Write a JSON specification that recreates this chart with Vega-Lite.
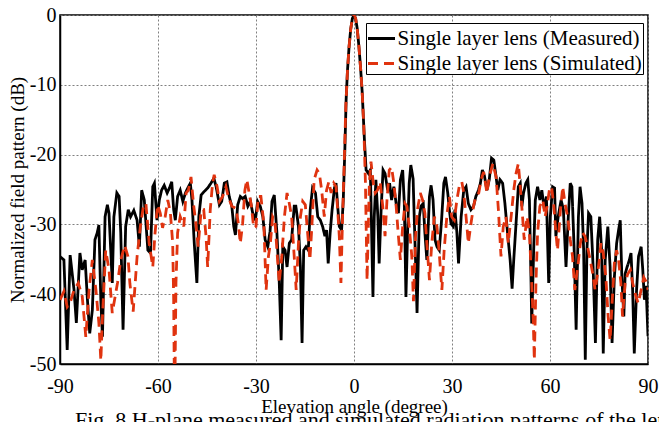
{
"$schema":"https://vega.github.io/schema/vega-lite/v6.json",
"width":588,"height":349,
"autosize":{"type":"none"},
"padding":{"left":60,"top":15,"right":11,"bottom":58},
"title":{"text":"Fig. 8 H-plane measured and simulated radiation patterns of the lens antenna","orient":"bottom","anchor":"start","frame":"group","font":"Liberation Serif","fontSize":22,"fontWeight":"normal","color":"black","offset":-6,"dx":15},
"config":{"view":{"stroke":"black","strokeWidth":1.5},"font":"Liberation Serif",
"style":{"guide-label":{"font":"Liberation Serif","fontSize":20,"fill":"black"},"guide-title":{"font":"Liberation Serif","fontSize":19,"fontWeight":"normal","fill":"black"}},
"axis":{"ticks":false,"tickSize":0,"domainColor":"black","domainWidth":1.5,"gridColor":"#808080","gridDash":[2,2],"gridWidth":1,"gridOpacity":1}},
"data":{"values":[
{"a":-90,"v":-34.6,"s":"Measured"},{"a":-88.8,"v":-35.1,"s":"Measured"},{"a":-87.8,"v":-48,"s":"Measured"},{"a":-86.9,"v":-34.4,"s":"Measured"},{"a":-85.7,"v":-39.4,"s":"Measured"},{"a":-85,"v":-44.1,"s":"Measured"},{"a":-83.9,"v":-34.1,"s":"Measured"},{"a":-83.2,"v":-36.5,"s":"Measured"},{"a":-82.3,"v":-35.1,"s":"Measured"},{"a":-81.6,"v":-40.8,"s":"Measured"},{"a":-80.9,"v":-45.6,"s":"Measured"},{"a":-80.1,"v":-42.3,"s":"Measured"},{"a":-79.3,"v":-32.2,"s":"Measured"},{"a":-78.6,"v":-31.2,"s":"Measured"},{"a":-78.1,"v":-30.1,"s":"Measured"},{"a":-77.5,"v":-40.8,"s":"Measured"},{"a":-77,"v":-46.1,"s":"Measured"},{"a":-76.2,"v":-28.9,"s":"Measured"},{"a":-75.5,"v":-27.2,"s":"Measured"},{"a":-75,"v":-28.4,"s":"Measured"},{"a":-74,"v":-38.4,"s":"Measured"},{"a":-73.5,"v":-28.9,"s":"Measured"},{"a":-72.6,"v":-25.5,"s":"Measured"},{"a":-71.9,"v":-26,"s":"Measured"},{"a":-71.4,"v":-31.2,"s":"Measured"},{"a":-70.7,"v":-45.1,"s":"Measured"},{"a":-69.9,"v":-30.3,"s":"Measured"},{"a":-69.1,"v":-27.9,"s":"Measured"},{"a":-68.4,"v":-28.9,"s":"Measured"},{"a":-67.4,"v":-28,"s":"Measured"},{"a":-66.4,"v":-29.4,"s":"Measured"},{"a":-65.7,"v":-33.2,"s":"Measured"},{"a":-65,"v":-25.1,"s":"Measured"},{"a":-64.2,"v":-26.5,"s":"Measured"},{"a":-63.1,"v":-33.7,"s":"Measured"},{"a":-62.3,"v":-34.1,"s":"Measured"},{"a":-61.6,"v":-24.6,"s":"Measured"},{"a":-61.1,"v":-24.1,"s":"Measured"},{"a":-60.3,"v":-29.4,"s":"Measured"},{"a":-59.6,"v":-26.5,"s":"Measured"},{"a":-58.9,"v":-25.1,"s":"Measured"},{"a":-58.1,"v":-24.4,"s":"Measured"},{"a":-57.2,"v":-25.5,"s":"Measured"},{"a":-56.5,"v":-24.8,"s":"Measured"},{"a":-55.8,"v":-23.9,"s":"Measured"},{"a":-55.2,"v":-27.9,"s":"Measured"},{"a":-54.7,"v":-29.4,"s":"Measured"},{"a":-54,"v":-26,"s":"Measured"},{"a":-53.2,"v":-25.1,"s":"Measured"},{"a":-52.4,"v":-26.7,"s":"Measured"},{"a":-51.6,"v":-25.5,"s":"Measured"},{"a":-50.9,"v":-24.8,"s":"Measured"},{"a":-50.1,"v":-24.1,"s":"Measured"},{"a":-49.6,"v":-26.5,"s":"Measured"},{"a":-48.9,"v":-32.7,"s":"Measured"},{"a":-48.1,"v":-38.4,"s":"Measured"},{"a":-47.5,"v":-28.9,"s":"Measured"},{"a":-46.8,"v":-25.8,"s":"Measured"},{"a":-45.9,"v":-25.3,"s":"Measured"},{"a":-44.8,"v":-24.8,"s":"Measured"},{"a":-43.8,"v":-24.1,"s":"Measured"},{"a":-42.9,"v":-23.4,"s":"Measured"},{"a":-42.2,"v":-24.6,"s":"Measured"},{"a":-41.2,"v":-27.2,"s":"Measured"},{"a":-40.5,"v":-26.7,"s":"Measured"},{"a":-39.7,"v":-24.1,"s":"Measured"},{"a":-38.9,"v":-23.9,"s":"Measured"},{"a":-38.2,"v":-26,"s":"Measured"},{"a":-37.4,"v":-27.4,"s":"Measured"},{"a":-36.8,"v":-30.3,"s":"Measured"},{"a":-36.3,"v":-31.5,"s":"Measured"},{"a":-35.6,"v":-27.2,"s":"Measured"},{"a":-34.8,"v":-26,"s":"Measured"},{"a":-34.1,"v":-26.3,"s":"Measured"},{"a":-33.3,"v":-26,"s":"Measured"},{"a":-32.5,"v":-27.4,"s":"Measured"},{"a":-31.7,"v":-26.7,"s":"Measured"},{"a":-31,"v":-28.4,"s":"Measured"},{"a":-30.2,"v":-29.4,"s":"Measured"},{"a":-29.5,"v":-26.7,"s":"Measured"},{"a":-28.7,"v":-27.4,"s":"Measured"},{"a":-27.9,"v":-28.9,"s":"Measured"},{"a":-27.2,"v":-32.2,"s":"Measured"},{"a":-26.4,"v":-33.2,"s":"Measured"},{"a":-25.7,"v":-31,"s":"Measured"},{"a":-25.1,"v":-26.7,"s":"Measured"},{"a":-24.4,"v":-25.8,"s":"Measured"},{"a":-23.6,"v":-31.2,"s":"Measured"},{"a":-22.9,"v":-38,"s":"Measured"},{"a":-22.3,"v":-46.6,"s":"Measured"},{"a":-21.8,"v":-33.2,"s":"Measured"},{"a":-21.1,"v":-33.7,"s":"Measured"},{"a":-20.5,"v":-36.1,"s":"Measured"},{"a":-19.8,"v":-32.7,"s":"Measured"},{"a":-19.1,"v":-32.2,"s":"Measured"},{"a":-18.3,"v":-27.4,"s":"Measured"},{"a":-17.8,"v":-27.4,"s":"Measured"},{"a":-17,"v":-30.3,"s":"Measured"},{"a":-16.4,"v":-36.1,"s":"Measured"},{"a":-15.9,"v":-47,"s":"Measured"},{"a":-15.4,"v":-33.7,"s":"Measured"},{"a":-14.7,"v":-33.2,"s":"Measured"},{"a":-14,"v":-33.7,"s":"Measured"},{"a":-13.4,"v":-27.9,"s":"Measured"},{"a":-12.7,"v":-24.8,"s":"Measured"},{"a":-11.8,"v":-25.5,"s":"Measured"},{"a":-11.1,"v":-28.9,"s":"Measured"},{"a":-10.3,"v":-29.4,"s":"Measured"},{"a":-9.6,"v":-30.3,"s":"Measured"},{"a":-8.9,"v":-31.7,"s":"Measured"},{"a":-8.4,"v":-30.8,"s":"Measured"},{"a":-7.9,"v":-35.6,"s":"Measured"},{"a":-7.3,"v":-31.2,"s":"Measured"},{"a":-6.7,"v":-27.9,"s":"Measured"},{"a":-6,"v":-24.8,"s":"Measured"},{"a":-5.5,"v":-24.1,"s":"Measured"},{"a":-5,"v":-27.4,"s":"Measured"},{"a":-4.5,"v":-30.3,"s":"Measured"},{"a":-3.8,"v":-30.8,"s":"Measured"},{"a":-3.3,"v":-26.7,"s":"Measured"},{"a":-2.8,"v":-19.3,"s":"Measured"},{"a":-2.4,"v":-12,"s":"Measured"},{"a":-2,"v":-8,"s":"Measured"},{"a":-1.5,"v":-4.5,"s":"Measured"},{"a":-1,"v":-2,"s":"Measured"},{"a":-0.5,"v":-0.5,"s":"Measured"},{"a":0,"v":0,"s":"Measured"},{"a":0.5,"v":-0.5,"s":"Measured"},{"a":1,"v":-2,"s":"Measured"},{"a":1.5,"v":-4.5,"s":"Measured"},{"a":2,"v":-7.5,"s":"Measured"},{"a":2.5,"v":-11,"s":"Measured"},{"a":3.2,"v":-18,"s":"Measured"},{"a":3.7,"v":-22.2,"s":"Measured"},{"a":4.4,"v":-22.7,"s":"Measured"},{"a":5,"v":-22.2,"s":"Measured"},{"a":5.4,"v":-31.2,"s":"Measured"},{"a":5.8,"v":-40.4,"s":"Measured"},{"a":6.2,"v":-28.9,"s":"Measured"},{"a":6.7,"v":-23.6,"s":"Measured"},{"a":7.3,"v":-28.9,"s":"Measured"},{"a":7.7,"v":-35.6,"s":"Measured"},{"a":8.3,"v":-27.9,"s":"Measured"},{"a":8.9,"v":-22.2,"s":"Measured"},{"a":9.5,"v":-22.7,"s":"Measured"},{"a":10.3,"v":-25.1,"s":"Measured"},{"a":10.9,"v":-24.1,"s":"Measured"},{"a":11.5,"v":-26.5,"s":"Measured"},{"a":12.2,"v":-24.6,"s":"Measured"},{"a":12.9,"v":-27,"s":"Measured"},{"a":13.6,"v":-28.4,"s":"Measured"},{"a":14.2,"v":-23.6,"s":"Measured"},{"a":14.9,"v":-22.2,"s":"Measured"},{"a":15.4,"v":-27,"s":"Measured"},{"a":15.9,"v":-40.4,"s":"Measured"},{"a":16.4,"v":-31.2,"s":"Measured"},{"a":16.9,"v":-24.1,"s":"Measured"},{"a":17.4,"v":-21.5,"s":"Measured"},{"a":18.1,"v":-23.5,"s":"Measured"},{"a":18.5,"v":-30,"s":"Measured"},{"a":18.9,"v":-36,"s":"Measured"},{"a":19.3,"v":-42.7,"s":"Measured"},{"a":20,"v":-28.9,"s":"Measured"},{"a":20.5,"v":-27.4,"s":"Measured"},{"a":21.2,"v":-27,"s":"Measured"},{"a":21.7,"v":-31.2,"s":"Measured"},{"a":22.3,"v":-35.1,"s":"Measured"},{"a":23.1,"v":-26,"s":"Measured"},{"a":23.6,"v":-24.4,"s":"Measured"},{"a":24.2,"v":-26.5,"s":"Measured"},{"a":24.8,"v":-32.2,"s":"Measured"},{"a":25.4,"v":-33.2,"s":"Measured"},{"a":26.1,"v":-33.7,"s":"Measured"},{"a":26.8,"v":-29.4,"s":"Measured"},{"a":27.5,"v":-24.1,"s":"Measured"},{"a":28,"v":-23.2,"s":"Measured"},{"a":28.7,"v":-25.5,"s":"Measured"},{"a":29.2,"v":-27.9,"s":"Measured"},{"a":29.7,"v":-29.9,"s":"Measured"},{"a":30.4,"v":-30.3,"s":"Measured"},{"a":30.9,"v":-27.9,"s":"Measured"},{"a":31.5,"v":-31.2,"s":"Measured"},{"a":32,"v":-35.6,"s":"Measured"},{"a":32.8,"v":-28.9,"s":"Measured"},{"a":33.6,"v":-25.1,"s":"Measured"},{"a":34.3,"v":-24.6,"s":"Measured"},{"a":35,"v":-27,"s":"Measured"},{"a":35.8,"v":-27.9,"s":"Measured"},{"a":36.6,"v":-27.4,"s":"Measured"},{"a":37.3,"v":-26,"s":"Measured"},{"a":38.1,"v":-25.1,"s":"Measured"},{"a":38.7,"v":-24.1,"s":"Measured"},{"a":39.3,"v":-22.2,"s":"Measured"},{"a":39.9,"v":-23,"s":"Measured"},{"a":40.7,"v":-25.1,"s":"Measured"},{"a":41.4,"v":-23.6,"s":"Measured"},{"a":42.1,"v":-20.5,"s":"Measured"},{"a":42.8,"v":-20.8,"s":"Measured"},{"a":43.5,"v":-23.2,"s":"Measured"},{"a":44,"v":-25.1,"s":"Measured"},{"a":44.7,"v":-23.6,"s":"Measured"},{"a":45.5,"v":-24.1,"s":"Measured"},{"a":46.2,"v":-27,"s":"Measured"},{"a":47,"v":-31.2,"s":"Measured"},{"a":47.8,"v":-35.1,"s":"Measured"},{"a":48.4,"v":-39.2,"s":"Measured"},{"a":48.9,"v":-35.1,"s":"Measured"},{"a":49.6,"v":-29.9,"s":"Measured"},{"a":50.3,"v":-24.6,"s":"Measured"},{"a":50.9,"v":-24.1,"s":"Measured"},{"a":51.4,"v":-27.4,"s":"Measured"},{"a":51.9,"v":-25.5,"s":"Measured"},{"a":52.6,"v":-24.1,"s":"Measured"},{"a":53.2,"v":-23.6,"s":"Measured"},{"a":53.7,"v":-26.5,"s":"Measured"},{"a":54.2,"v":-38.4,"s":"Measured"},{"a":54.4,"v":-44.2,"s":"Measured"},{"a":55,"v":-33.7,"s":"Measured"},{"a":55.5,"v":-26.5,"s":"Measured"},{"a":56.2,"v":-24.6,"s":"Measured"},{"a":56.9,"v":-26.5,"s":"Measured"},{"a":57.5,"v":-25.1,"s":"Measured"},{"a":58.3,"v":-27.9,"s":"Measured"},{"a":58.9,"v":-26,"s":"Measured"},{"a":59.6,"v":-38.4,"s":"Measured"},{"a":60.1,"v":-28.9,"s":"Measured"},{"a":60.8,"v":-24.6,"s":"Measured"},{"a":61.4,"v":-24.8,"s":"Measured"},{"a":61.8,"v":-31.7,"s":"Measured"},{"a":62.5,"v":-28.9,"s":"Measured"},{"a":63.4,"v":-26.5,"s":"Measured"},{"a":64.1,"v":-27.9,"s":"Measured"},{"a":64.9,"v":-36.1,"s":"Measured"},{"a":65.6,"v":-28.9,"s":"Measured"},{"a":66.2,"v":-24.1,"s":"Measured"},{"a":66.7,"v":-24.6,"s":"Measured"},{"a":67.4,"v":-33.7,"s":"Measured"},{"a":68,"v":-45.1,"s":"Measured"},{"a":68.7,"v":-28.9,"s":"Measured"},{"a":69.2,"v":-24.6,"s":"Measured"},{"a":69.8,"v":-27,"s":"Measured"},{"a":70.3,"v":-33.7,"s":"Measured"},{"a":70.8,"v":-49.4,"s":"Measured"},{"a":71.3,"v":-33.7,"s":"Measured"},{"a":71.8,"v":-28.4,"s":"Measured"},{"a":72.5,"v":-28.9,"s":"Measured"},{"a":73.2,"v":-36.1,"s":"Measured"},{"a":73.9,"v":-47,"s":"Measured"},{"a":74.6,"v":-32.2,"s":"Measured"},{"a":75.2,"v":-28.9,"s":"Measured"},{"a":75.8,"v":-33.7,"s":"Measured"},{"a":76.3,"v":-48.5,"s":"Measured"},{"a":76.9,"v":-35.1,"s":"Measured"},{"a":77.7,"v":-30.3,"s":"Measured"},{"a":78.4,"v":-36.1,"s":"Measured"},{"a":79,"v":-47,"s":"Measured"},{"a":79.7,"v":-37.6,"s":"Measured"},{"a":80.4,"v":-32.7,"s":"Measured"},{"a":81,"v":-30.8,"s":"Measured"},{"a":81.5,"v":-29.4,"s":"Measured"},{"a":82,"v":-37.6,"s":"Measured"},{"a":82.6,"v":-43.2,"s":"Measured"},{"a":83,"v":-37.1,"s":"Measured"},{"a":83.6,"v":-36.1,"s":"Measured"},{"a":84.3,"v":-35.1,"s":"Measured"},{"a":84.8,"v":-34.1,"s":"Measured"},{"a":85.3,"v":-39.4,"s":"Measured"},{"a":85.8,"v":-48.5,"s":"Measured"},{"a":86.5,"v":-39.4,"s":"Measured"},{"a":87.1,"v":-34.6,"s":"Measured"},{"a":87.9,"v":-33.2,"s":"Measured"},{"a":88.4,"v":-36.5,"s":"Measured"},{"a":88.9,"v":-40.8,"s":"Measured"},{"a":89.4,"v":-38.8,"s":"Measured"},{"a":90,"v":-46,"s":"Measured"},
{"a":-90,"v":-40.8,"s":"Simulated"},{"a":-88.8,"v":-39.6,"s":"Simulated"},{"a":-87.8,"v":-41.8,"s":"Simulated"},{"a":-86.9,"v":-41.2,"s":"Simulated"},{"a":-85.7,"v":-39.4,"s":"Simulated"},{"a":-84.4,"v":-38.4,"s":"Simulated"},{"a":-83.2,"v":-40.3,"s":"Simulated"},{"a":-82.1,"v":-46.1,"s":"Simulated"},{"a":-81.1,"v":-39.4,"s":"Simulated"},{"a":-80.1,"v":-35.1,"s":"Simulated"},{"a":-79,"v":-39.4,"s":"Simulated"},{"a":-78.1,"v":-44.1,"s":"Simulated"},{"a":-77.5,"v":-49.5,"s":"Simulated"},{"a":-77,"v":-43.2,"s":"Simulated"},{"a":-76,"v":-33.7,"s":"Simulated"},{"a":-75,"v":-36.5,"s":"Simulated"},{"a":-74,"v":-42.7,"s":"Simulated"},{"a":-72.4,"v":-38.4,"s":"Simulated"},{"a":-71.4,"v":-35.1,"s":"Simulated"},{"a":-70.2,"v":-33,"s":"Simulated"},{"a":-69.2,"v":-34.6,"s":"Simulated"},{"a":-68.6,"v":-38.5,"s":"Simulated"},{"a":-67.6,"v":-42.5,"s":"Simulated"},{"a":-66.4,"v":-34.6,"s":"Simulated"},{"a":-65.4,"v":-30.3,"s":"Simulated"},{"a":-64.4,"v":-27.2,"s":"Simulated"},{"a":-63.7,"v":-27,"s":"Simulated"},{"a":-62.7,"v":-32.7,"s":"Simulated"},{"a":-61.6,"v":-36.1,"s":"Simulated"},{"a":-60.9,"v":-31.2,"s":"Simulated"},{"a":-60.1,"v":-27.2,"s":"Simulated"},{"a":-59.3,"v":-28.4,"s":"Simulated"},{"a":-58.6,"v":-30.5,"s":"Simulated"},{"a":-57.8,"v":-28.9,"s":"Simulated"},{"a":-57,"v":-26.5,"s":"Simulated"},{"a":-56.2,"v":-28.4,"s":"Simulated"},{"a":-55.5,"v":-32.7,"s":"Simulated"},{"a":-55.2,"v":-40.8,"s":"Simulated"},{"a":-55,"v":-52,"s":"Simulated"},{"a":-54.8,"v":-52,"s":"Simulated"},{"a":-54.5,"v":-38.4,"s":"Simulated"},{"a":-54,"v":-31.2,"s":"Simulated"},{"a":-53.2,"v":-28.9,"s":"Simulated"},{"a":-52.1,"v":-30.3,"s":"Simulated"},{"a":-51.4,"v":-25.5,"s":"Simulated"},{"a":-50.7,"v":-25.1,"s":"Simulated"},{"a":-49.9,"v":-23.2,"s":"Simulated"},{"a":-49.1,"v":-27.2,"s":"Simulated"},{"a":-48.4,"v":-29.9,"s":"Simulated"},{"a":-47.7,"v":-33.2,"s":"Simulated"},{"a":-46.8,"v":-28,"s":"Simulated"},{"a":-46,"v":-27.9,"s":"Simulated"},{"a":-45.3,"v":-31.7,"s":"Simulated"},{"a":-44.8,"v":-36.1,"s":"Simulated"},{"a":-44,"v":-27.9,"s":"Simulated"},{"a":-43.3,"v":-24.1,"s":"Simulated"},{"a":-42.8,"v":-22.9,"s":"Simulated"},{"a":-41.9,"v":-24.6,"s":"Simulated"},{"a":-41.2,"v":-26.7,"s":"Simulated"},{"a":-40.2,"v":-26,"s":"Simulated"},{"a":-39.2,"v":-24.6,"s":"Simulated"},{"a":-38.5,"v":-26,"s":"Simulated"},{"a":-37.4,"v":-27.4,"s":"Simulated"},{"a":-36.1,"v":-27.7,"s":"Simulated"},{"a":-35.4,"v":-29.9,"s":"Simulated"},{"a":-34.8,"v":-32.7,"s":"Simulated"},{"a":-34.1,"v":-29.9,"s":"Simulated"},{"a":-33.4,"v":-25.1,"s":"Simulated"},{"a":-32.8,"v":-23.6,"s":"Simulated"},{"a":-32.1,"v":-25.5,"s":"Simulated"},{"a":-31.4,"v":-27.4,"s":"Simulated"},{"a":-30.7,"v":-30.5,"s":"Simulated"},{"a":-30,"v":-30.3,"s":"Simulated"},{"a":-29.3,"v":-26,"s":"Simulated"},{"a":-28.5,"v":-26,"s":"Simulated"},{"a":-27.6,"v":-29.9,"s":"Simulated"},{"a":-26.9,"v":-39.4,"s":"Simulated"},{"a":-26.2,"v":-34.6,"s":"Simulated"},{"a":-25.6,"v":-32.7,"s":"Simulated"},{"a":-24.9,"v":-28.9,"s":"Simulated"},{"a":-24.2,"v":-29.5,"s":"Simulated"},{"a":-23.6,"v":-33.7,"s":"Simulated"},{"a":-22.9,"v":-38.4,"s":"Simulated"},{"a":-22.1,"v":-34.6,"s":"Simulated"},{"a":-21.3,"v":-28.9,"s":"Simulated"},{"a":-20.5,"v":-25.5,"s":"Simulated"},{"a":-19.8,"v":-27,"s":"Simulated"},{"a":-19.1,"v":-28.9,"s":"Simulated"},{"a":-18.3,"v":-34.6,"s":"Simulated"},{"a":-17.7,"v":-39.4,"s":"Simulated"},{"a":-17,"v":-32.7,"s":"Simulated"},{"a":-16.4,"v":-28.9,"s":"Simulated"},{"a":-15.7,"v":-26.7,"s":"Simulated"},{"a":-14.9,"v":-27.2,"s":"Simulated"},{"a":-14.2,"v":-31.2,"s":"Simulated"},{"a":-13.5,"v":-35.1,"s":"Simulated"},{"a":-12.9,"v":-30.3,"s":"Simulated"},{"a":-12.2,"v":-23.6,"s":"Simulated"},{"a":-11.3,"v":-22.2,"s":"Simulated"},{"a":-10.6,"v":-22.7,"s":"Simulated"},{"a":-9.9,"v":-25.1,"s":"Simulated"},{"a":-9.1,"v":-28.9,"s":"Simulated"},{"a":-8.4,"v":-25.1,"s":"Simulated"},{"a":-7.7,"v":-23.9,"s":"Simulated"},{"a":-7,"v":-25.5,"s":"Simulated"},{"a":-6.2,"v":-24.1,"s":"Simulated"},{"a":-5.5,"v":-24.6,"s":"Simulated"},{"a":-5,"v":-27.9,"s":"Simulated"},{"a":-4.5,"v":-31.7,"s":"Simulated"},{"a":-4,"v":-38.4,"s":"Simulated"},{"a":-3.5,"v":-28.9,"s":"Simulated"},{"a":-3,"v":-21.3,"s":"Simulated"},{"a":-2.5,"v":-13,"s":"Simulated"},{"a":-2,"v":-8,"s":"Simulated"},{"a":-1.5,"v":-4.5,"s":"Simulated"},{"a":-1,"v":-2,"s":"Simulated"},{"a":-0.5,"v":-0.5,"s":"Simulated"},{"a":0,"v":0,"s":"Simulated"},{"a":0.5,"v":-0.5,"s":"Simulated"},{"a":1,"v":-2,"s":"Simulated"},{"a":1.5,"v":-4.5,"s":"Simulated"},{"a":2,"v":-7.5,"s":"Simulated"},{"a":2.5,"v":-11,"s":"Simulated"},{"a":3,"v":-16,"s":"Simulated"},{"a":3.5,"v":-24,"s":"Simulated"},{"a":4,"v":-38,"s":"Simulated"},{"a":4.7,"v":-24.1,"s":"Simulated"},{"a":5.2,"v":-21,"s":"Simulated"},{"a":5.9,"v":-24.1,"s":"Simulated"},{"a":6.5,"v":-25.5,"s":"Simulated"},{"a":7.2,"v":-25.1,"s":"Simulated"},{"a":8,"v":-23.9,"s":"Simulated"},{"a":8.8,"v":-27.4,"s":"Simulated"},{"a":9.5,"v":-31.7,"s":"Simulated"},{"a":10.1,"v":-26.5,"s":"Simulated"},{"a":10.8,"v":-22.2,"s":"Simulated"},{"a":11.5,"v":-21.8,"s":"Simulated"},{"a":12.2,"v":-24.1,"s":"Simulated"},{"a":12.9,"v":-27.4,"s":"Simulated"},{"a":13.6,"v":-31.7,"s":"Simulated"},{"a":14.2,"v":-35.1,"s":"Simulated"},{"a":14.9,"v":-30.3,"s":"Simulated"},{"a":15.6,"v":-27,"s":"Simulated"},{"a":16.2,"v":-27.4,"s":"Simulated"},{"a":16.9,"v":-30.3,"s":"Simulated"},{"a":17.7,"v":-34.6,"s":"Simulated"},{"a":18.2,"v":-41,"s":"Simulated"},{"a":18.8,"v":-32,"s":"Simulated"},{"a":19.5,"v":-27.7,"s":"Simulated"},{"a":20.3,"v":-25.5,"s":"Simulated"},{"a":21,"v":-26.5,"s":"Simulated"},{"a":21.7,"v":-28.4,"s":"Simulated"},{"a":22.3,"v":-32.7,"s":"Simulated"},{"a":23.1,"v":-38,"s":"Simulated"},{"a":23.8,"v":-32.7,"s":"Simulated"},{"a":24.6,"v":-28.9,"s":"Simulated"},{"a":25.4,"v":-30.3,"s":"Simulated"},{"a":26.1,"v":-34.1,"s":"Simulated"},{"a":26.9,"v":-39.4,"s":"Simulated"},{"a":27.6,"v":-33.7,"s":"Simulated"},{"a":28.5,"v":-28.4,"s":"Simulated"},{"a":29.2,"v":-26,"s":"Simulated"},{"a":29.9,"v":-28.9,"s":"Simulated"},{"a":30.7,"v":-29.4,"s":"Simulated"},{"a":31.5,"v":-26.5,"s":"Simulated"},{"a":32.2,"v":-24.6,"s":"Simulated"},{"a":33,"v":-23.9,"s":"Simulated"},{"a":33.6,"v":-25.5,"s":"Simulated"},{"a":34.3,"v":-28.9,"s":"Simulated"},{"a":35,"v":-32.7,"s":"Simulated"},{"a":35.8,"v":-29.9,"s":"Simulated"},{"a":36.6,"v":-27.4,"s":"Simulated"},{"a":37.3,"v":-26,"s":"Simulated"},{"a":38.2,"v":-25.5,"s":"Simulated"},{"a":38.9,"v":-23.6,"s":"Simulated"},{"a":39.7,"v":-22.5,"s":"Simulated"},{"a":40.7,"v":-25.5,"s":"Simulated"},{"a":41.4,"v":-23.2,"s":"Simulated"},{"a":42.5,"v":-21.3,"s":"Simulated"},{"a":43.5,"v":-23.2,"s":"Simulated"},{"a":44.2,"v":-27.9,"s":"Simulated"},{"a":45,"v":-34.6,"s":"Simulated"},{"a":45.7,"v":-30.3,"s":"Simulated"},{"a":46.5,"v":-28.9,"s":"Simulated"},{"a":47.2,"v":-32.7,"s":"Simulated"},{"a":48.1,"v":-28.9,"s":"Simulated"},{"a":48.9,"v":-25.1,"s":"Simulated"},{"a":49.6,"v":-22.7,"s":"Simulated"},{"a":50.3,"v":-21.3,"s":"Simulated"},{"a":50.9,"v":-24.6,"s":"Simulated"},{"a":51.6,"v":-28.9,"s":"Simulated"},{"a":52.1,"v":-32.2,"s":"Simulated"},{"a":53,"v":-28.9,"s":"Simulated"},{"a":53.7,"v":-31.2,"s":"Simulated"},{"a":54.4,"v":-38.4,"s":"Simulated"},{"a":54.9,"v":-44.2,"s":"Simulated"},{"a":55.2,"v":-49.4,"s":"Simulated"},{"a":55.7,"v":-38.4,"s":"Simulated"},{"a":56.2,"v":-31.2,"s":"Simulated"},{"a":56.9,"v":-27.4,"s":"Simulated"},{"a":57.8,"v":-26.5,"s":"Simulated"},{"a":58.5,"v":-28.9,"s":"Simulated"},{"a":59.1,"v":-27.4,"s":"Simulated"},{"a":59.8,"v":-25.1,"s":"Simulated"},{"a":60.5,"v":-24.6,"s":"Simulated"},{"a":61.2,"v":-27.5,"s":"Simulated"},{"a":61.8,"v":-31.2,"s":"Simulated"},{"a":62.3,"v":-33.7,"s":"Simulated"},{"a":63.2,"v":-27.9,"s":"Simulated"},{"a":63.9,"v":-24.6,"s":"Simulated"},{"a":64.6,"v":-27,"s":"Simulated"},{"a":65.4,"v":-28.9,"s":"Simulated"},{"a":66.2,"v":-32.2,"s":"Simulated"},{"a":66.9,"v":-34.6,"s":"Simulated"},{"a":67.6,"v":-39.4,"s":"Simulated"},{"a":68.5,"v":-36.1,"s":"Simulated"},{"a":69.3,"v":-32.7,"s":"Simulated"},{"a":70,"v":-31.2,"s":"Simulated"},{"a":70.7,"v":-31.7,"s":"Simulated"},{"a":71.5,"v":-33.2,"s":"Simulated"},{"a":72.3,"v":-35.1,"s":"Simulated"},{"a":73.1,"v":-37.1,"s":"Simulated"},{"a":73.8,"v":-39.4,"s":"Simulated"},{"a":74.4,"v":-37.6,"s":"Simulated"},{"a":75.1,"v":-35.1,"s":"Simulated"},{"a":75.6,"v":-32.7,"s":"Simulated"},{"a":76.3,"v":-34.1,"s":"Simulated"},{"a":77.1,"v":-37.6,"s":"Simulated"},{"a":77.8,"v":-43.2,"s":"Simulated"},{"a":78.4,"v":-46.6,"s":"Simulated"},{"a":79,"v":-41.3,"s":"Simulated"},{"a":79.7,"v":-35.6,"s":"Simulated"},{"a":80.4,"v":-33.7,"s":"Simulated"},{"a":81,"v":-35.1,"s":"Simulated"},{"a":81.7,"v":-38.4,"s":"Simulated"},{"a":82.2,"v":-43.2,"s":"Simulated"},{"a":83,"v":-38.4,"s":"Simulated"},{"a":83.8,"v":-37.1,"s":"Simulated"},{"a":84.6,"v":-36.5,"s":"Simulated"},{"a":85.3,"v":-38.4,"s":"Simulated"},{"a":86.3,"v":-40.3,"s":"Simulated"},{"a":87,"v":-41.3,"s":"Simulated"},{"a":87.9,"v":-39.4,"s":"Simulated"},{"a":88.7,"v":-37.6,"s":"Simulated"},{"a":89.7,"v":-38.4,"s":"Simulated"},{"a":90,"v":-39.4,"s":"Simulated"}
]},
"mark":{"type":"line","strokeWidth":2.8,"clip":true},
"encoding":{
"x":{"field":"a","type":"quantitative","scale":{"domain":[-90,90],"nice":false,"zero":false},"axis":{"values":[-90,-60,-30,0,30,60,90],"title":"Elevation angle (degree)","labelExpr":"''+datum.value","labelFlush":false,"labelFont":"Liberation Serif","labelFontSize":20,"labelColor":"black","titleFont":"Liberation Serif","titleFontSize":19,"titleFontWeight":"normal","titleColor":"black","labelPadding":12,"titlePadding":1}},
"y":{"field":"v","type":"quantitative","scale":{"domain":[-50,0],"nice":false},"axis":{"values":[0,-10,-20,-30,-40,-50],"title":"Normalized field pattern (dB)","labelExpr":"''+datum.value","labelFlush":false,"labelFont":"Liberation Serif","labelFontSize":20,"labelColor":"black","titleFont":"Liberation Serif","titleFontSize":19,"titleFontWeight":"normal","titleColor":"black","labelPadding":4,"titlePadding":2}},
"color":{"field":"s","type":"nominal","scale":{"domain":["Measured","Simulated"],"range":["#000000","#e0330f"]},"legend":{"orient":"none","legendX":306,"legendY":8,"title":null,"strokeColor":"black","fillColor":"white","padding":0.5,"symbolType":"stroke","symbolSize":729,"symbolStrokeWidth":2.8,"labelFont":"Liberation Serif","labelFontSize":21,"labelColor":"black","labelLimit":400,"labelOffset":1,"rowPadding":-1,"labelExpr":"'Single layer lens (' + datum.label + ')'"}},
"strokeDash":{"field":"s","type":"nominal","scale":{"domain":["Measured","Simulated"],"range":[[1,0],[10,6]]},"legend":{"orient":"none","legendX":306,"legendY":8,"title":null,"strokeColor":"black","fillColor":"white","padding":0.5,"symbolType":"stroke","symbolSize":729,"symbolStrokeWidth":2.8,"labelFont":"Liberation Serif","labelFontSize":21,"labelColor":"black","labelLimit":400,"labelOffset":1,"rowPadding":-1,"labelExpr":"'Single layer lens (' + datum.label + ')'"}}
}
}
